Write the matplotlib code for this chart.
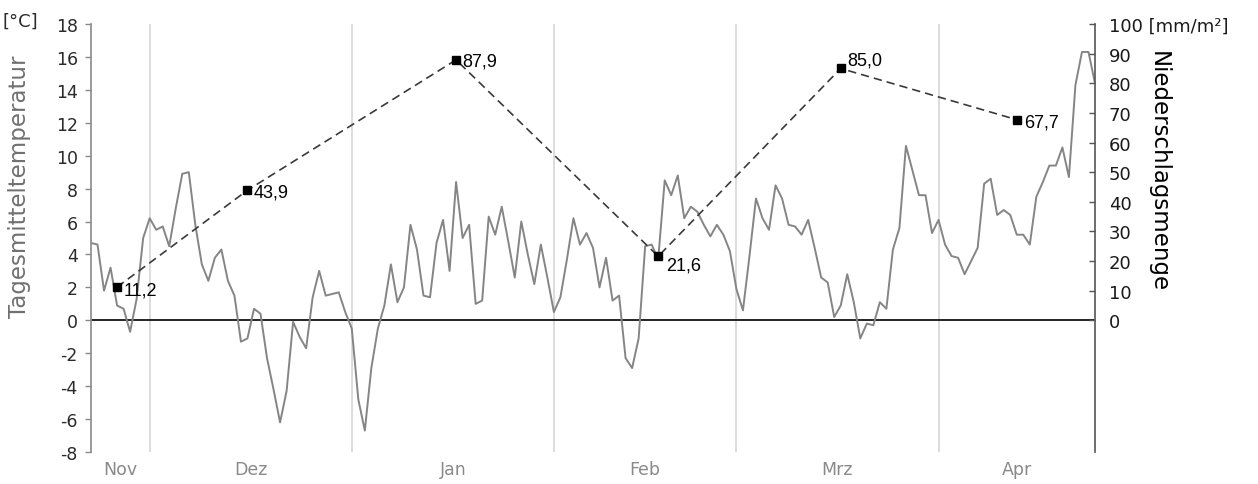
import matplotlib
matplotlib.use('Agg')
import matplotlib.pyplot as plt
import matplotlib.dates as mdates
import pandas as pd

# ---------------- data ----------------
start_date = '2010-11-22'
temperature = [
    4.7, 4.6, 1.8, 3.2, 0.9, 0.7, -0.7, 1.3, 5.0,            # Nov 22-30
    6.2, 5.5, 5.7, 4.5, 6.8, 8.9, 9.0, 5.8, 3.4, 2.4,        # Dec 1-10
    3.8, 4.3, 2.4, 1.5, -1.3, -1.1, 0.7, 0.4, -2.3, -4.2,    # Dec 11-20
    -6.2, -4.3, -0.1, -1.0, -1.7, 1.4, 3.0, 1.5, 1.6, 1.7,   # Dec 21-30
    0.5,                                                      # Dec 31
    -0.5, -4.8, -6.7, -2.9, -0.5, 0.9, 3.4, 1.1, 2.0, 5.8,   # Jan 1-10
    4.3, 1.5, 1.4, 4.7, 6.1, 3.0, 8.4, 5.0, 5.8, 1.0,        # Jan 11-20
    1.2, 6.3, 5.2, 6.9, 4.8, 2.6, 6.0, 4.0, 2.2, 4.6,        # Jan 21-30
    2.6,                                                      # Jan 31
    0.5, 1.4, 3.7, 6.2, 4.6, 5.3, 4.4, 2.0, 3.8, 1.2,        # Feb 1-10
    1.5, -2.3, -2.9, -1.1, 4.5, 4.6, 3.7, 8.5, 7.6, 8.8,     # Feb 11-20
    6.2, 6.9, 6.6, 5.8, 5.1, 5.8, 5.2, 4.2,                  # Feb 21-28
    1.9, 0.6, 3.9, 7.4, 6.2, 5.5, 8.2, 7.4, 5.8, 5.7,        # Mar 1-10
    5.2, 6.1, 4.4, 2.6, 2.3, 0.2, 0.9, 2.8, 1.1, -1.1,       # Mar 11-20
    -0.2, -0.3, 1.1, 0.7, 4.3, 5.6, 10.6, 9.1, 7.6, 7.6,     # Mar 21-30
    5.3,                                                      # Mar 31
    6.1, 4.6, 3.9, 3.8, 2.8, 3.6, 4.4, 8.3, 8.6, 6.4,        # Apr 1-10
    6.7, 6.4, 5.2, 5.2, 4.6, 7.5, 8.4, 9.4, 9.4, 10.5,       # Apr 11-20
    8.7, 14.3, 16.3, 16.3, 14.4,                             # Apr 21-25
]
precip_dates = ['2010-11-26', '2010-12-16', '2011-01-17',
                '2011-02-17', '2011-03-17', '2011-04-13']
precip = [11.2, 43.9, 87.9, 21.6, 85.0, 67.7]
month_labels = ['Nov', 'Dez', 'Jan', 'Feb', 'Mrz', 'Apr']
month_starts = ['2010-11-01', '2010-12-01', '2011-01-01', '2011-02-01',
                '2011-03-01', '2011-04-01', '2011-05-01']
temp_ticks = list(range(-8, 19, 2))
precip_ticks = list(range(0, 101, 10))

# ---------------- figure ----------------
plt.rcParams['font.family'] = ['DejaVu Sans']
plt.rcParams['axes.unicode_minus'] = False

W, H = 1258, 485
fig = plt.figure(figsize=(W / 100, H / 100), dpi=100)

x0, x1, y_top, y_bot = 91, 1095, 25, 453
ax = fig.add_axes([x0 / W, 1 - y_bot / H, (x1 - x0) / W, (y_bot - y_top) / H])

dates = pd.date_range(start_date, periods=len(temperature), freq='D')
xnum = mdates.date2num(dates)
ax.set_xlim(xnum[0], xnum[-1])
ax.set_ylim(-8, 18)

# month grid lines
ms = mdates.date2num(pd.to_datetime(month_starts))
for m in ms:
    if xnum[0] < m < xnum[-1]:
        ax.axvline(m, color='#d9d9d9', lw=1.3, zorder=0)
ax.axhline(0, color='black', lw=1.2, zorder=1)

ax.plot(xnum, temperature, color='#858585', lw=1.4, zorder=2)

# month labels centered on the visible part of each month
centers = []
for a, b in zip(ms[:-1], ms[1:]):
    lo, hi = max(a, xnum[0]), min(b, xnum[-1])
    centers.append((lo + hi) / 2)
ax.set_xticks(centers)
ax.set_xticklabels(month_labels)
ax.tick_params(axis='x', length=0, pad=6, labelsize=12.5, labelcolor='#8a8a8a')

ax.set_yticks(temp_ticks)
ax.tick_params(axis='y', direction='out', length=4, width=1, color='#8a8a8a',
               pad=5.5, labelsize=12.5, labelcolor='#2a2a2a')
for s in ['top', 'right', 'bottom']:
    ax.spines[s].set_visible(False)
ax.spines['left'].set_color('#8a8a8a')
ax.spines['left'].set_linewidth(1.2)

ax.set_ylabel('Tagesmitteltemperatur', fontsize=16.5, color='#707070')
ax.yaxis.set_label_coords(-(91 - 31) / (x1 - x0), 1 - (187 - y_top) / (y_bot - y_top))
fig.text(3 / W, 1 - 22 / H, '[°C]', fontsize=13, color='#2a2a2a', va='center', ha='left')

# ---------------- precipitation ----------------
ax2 = ax.twinx()
ax2.set_ylim(-8 / 18 * 100, 100)
pnum = mdates.date2num(pd.to_datetime(precip_dates))
ax2.plot(pnum, precip, color='#3a3a3a', lw=1.2, dashes=(5, 3), zorder=3)
ax2.plot(pnum, precip, ls='none', marker='s', ms=6.2, mfc='black', mec='black', zorder=4)
offsets = [(4.5, -2), (4.5, -1.5), (4.5, -1), (5.5, -6), (5, 6), (5, -1.5)]
for d, v, off in zip(pnum, precip, offsets):
    ax2.annotate(f'{v:.1f}'.replace('.', ','), (d, v), xytext=off,
                 textcoords='offset points', ha='left', va='center',
                 fontsize=13, family='Liberation Sans', color='black', zorder=5)

ax2.set_yticks(precip_ticks)
ax2.set_yticklabels([str(t) if t != 100 else '100 [mm/m²]' for t in precip_ticks])
ax2.tick_params(axis='y', direction='in', length=4, width=1, color='#555555',
                pad=10, labelsize=13, labelcolor='#1a1a1a')
for s in ['top', 'left', 'bottom']:
    ax2.spines[s].set_visible(False)
ax2.spines['right'].set_color('#555555')
ax2.spines['right'].set_linewidth(1.2)
ax2.set_ylabel('Niederschlagsmenge', fontsize=16.5, color='black', rotation=270,
               va='center')
ax2.yaxis.set_label_coords(1 + (1158 - x1) / (x1 - x0), 1 - (172 - y_top) / (y_bot - y_top))

fig.savefig('out.png', dpi=100)
